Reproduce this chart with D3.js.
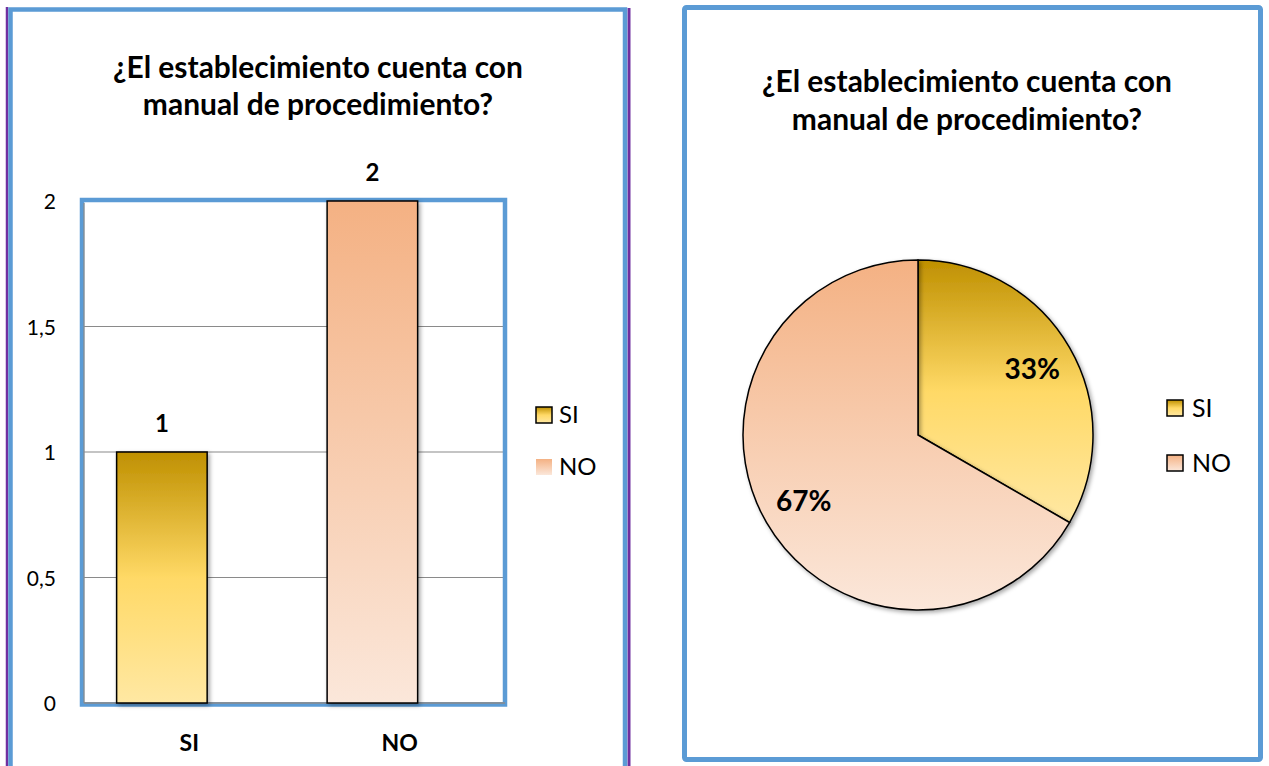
<!DOCTYPE html>
<html>
<head>
<meta charset="utf-8">
<script src="https://cdn.jsdelivr.net/npm/d3@7"></script>
<style>
  html, body { margin: 0; padding: 0; background: #fff; }
  svg { display: block; font-family: Lato, "Open Sans", sans-serif; }
</style>
</head>
<body>
<svg id="chart" width="1269" height="766"></svg>
<script>
// ---- data ----
const titleLines = ["¿El establecimiento cuenta con", "manual de procedimiento?"];
const categories = ["SI", "NO"];
const values = [1, 2];
const yTicks = [0, 0.5, 1, 1.5, 2];
const legendLabels = ["SI", "NO"];

const svg = d3.select("#chart");
const defs = svg.append("defs");

// gradients
function grad(id, stops) {
  const g = defs.append("linearGradient").attr("id", id)
    .attr("x1", 0).attr("y1", 0).attr("x2", 0).attr("y2", 1);
  stops.forEach(s => g.append("stop").attr("offset", s[0]).attr("stop-color", s[1]));
}
grad("gSI", [[0, "#BF9000"], [0.5, "#FFD966"], [1, "#FFE8A3"]]);
grad("gNO", [[0, "#F4B183"], [1, "#FBE7DA"]]);
const fills = { SI: "url(#gSI)", NO: "url(#gNO)" };

const sh = defs.append("filter").attr("id", "shadow")
  .attr("x", "-20%").attr("y", "-20%").attr("width", "140%").attr("height", "140%");
sh.append("feDropShadow").attr("dx", 2).attr("dy", 2).attr("stdDeviation", 2)
  .attr("flood-color", "#000").attr("flood-opacity", 0.35);

const blue = "#5B9BD5", purple = "#7030A0";

// ---- panel frames ----
svg.append("line").attr("x1", 7).attr("x2", 7).attr("y1", 7).attr("y2", 766)
  .attr("stroke", purple).attr("stroke-width", 2.5);
svg.append("line").attr("x1", 629).attr("x2", 629).attr("y1", 8).attr("y2", 766)
  .attr("stroke", purple).attr("stroke-width", 3);
svg.append("rect").attr("x", 10.5).attr("y", 9.5).attr("width", 614.5).attr("height", 800)
  .attr("fill", "none").attr("stroke", blue).attr("stroke-width", 4.5);
svg.append("rect").attr("x", 684.5).attr("y", 7.5).attr("width", 576).attr("height", 752)
  .attr("rx", 2).attr("fill", "none").attr("stroke", blue).attr("stroke-width", 5);

// ---- titles ----
function title(cx, baselines) {
  const t = svg.append("g");
  titleLines.forEach((line, i) => {
    const el = t.append("text").attr("x", cx).attr("y", baselines[i])
      .attr("text-anchor", "middle").attr("font-weight", "bold")
      .attr("font-size", 24).attr("fill", "#000").text(line);
    if (i === 0) {
      const w = el.node().getComputedTextLength();
      t.attr("data-fs", 24 * 410 / w);
    }
  });
  const fs = +t.attr("data-fs");
  t.selectAll("text").attr("font-size", fs);
}
title(318, [78, 115]);
title(967, [92, 130]);

// ---- bar chart ----
const plot = { x0: 84, x1: 505, y0: 201, y1: 703 };
const x = d3.scaleBand().domain(categories).range([plot.x0, plot.x1]);
const y = d3.scaleLinear().domain([0, 2]).range([plot.y1, plot.y0]);

const grid = svg.append("g");
grid.selectAll("line").data(yTicks).join("line")
  .attr("x1", plot.x0).attr("x2", plot.x1)
  .attr("y1", d => y(d)).attr("y2", d => y(d))
  .attr("stroke", "#8a8a8a").attr("stroke-width", 1.2);

svg.append("rect").attr("x", plot.x0 - 2).attr("y", plot.y0 - 1)
  .attr("width", plot.x1 - plot.x0 + 2).attr("height", plot.y1 - plot.y0 + 2.5)
  .attr("fill", "none").attr("stroke", blue).attr("stroke-width", 4.5);
svg.append("line").attr("x1", plot.x0).attr("x2", plot.x0).attr("y1", plot.y0 + 2).attr("y2", plot.y1)
  .attr("stroke", "#8a8a8a").attr("stroke-width", 1.2);
svg.append("line").attr("x1", plot.x0).attr("x2", plot.x1).attr("y1", plot.y1).attr("y2", plot.y1)
  .attr("stroke", "#8a8a8a").attr("stroke-width", 1.5);

const yAxis = d3.axisLeft(y).tickValues(yTicks).tickSize(0)
  .tickFormat(d => String(d).replace(".", ","));
const ya = svg.append("g").attr("transform", `translate(${plot.x0 - 28},0)`).call(yAxis);
ya.select(".domain").remove();
ya.selectAll("text").attr("font-size", 21).attr("fill", "#000")
  .attr("font-family", "Lato, sans-serif").attr("dy", "0.36em").attr("x", 0);

const xAxis = d3.axisBottom(x).tickSize(0);
const xa = svg.append("g").attr("transform", `translate(0,${plot.y1})`).call(xAxis);
xa.select(".domain").remove();
xa.selectAll("text").attr("font-size", 23).attr("font-weight", "bold").attr("fill", "#000")
  .attr("font-family", "Lato, sans-serif").attr("y", 48).attr("dy", 0);

const bw = x.bandwidth() * 0.43, boff = x.bandwidth() * 0.155;
svg.append("g").selectAll("rect").data(categories).join("rect")
  .attr("x", (d) => x(d) + boff).attr("width", bw)
  .attr("y", (d, i) => y(values[i])).attr("height", (d, i) => y(0) - y(values[i]))
  .attr("fill", d => fills[d]).attr("stroke", "#000").attr("stroke-width", 1.5)
  .attr("filter", "url(#shadow)");

svg.append("g").selectAll("text").data(categories).join("text")
  .attr("x", d => x(d) + boff + bw / 2).attr("y", (d, i) => y(values[i]) - 20)
  .attr("text-anchor", "middle").attr("font-size", 24).attr("font-weight", "bold")
  .text((d, i) => values[i]);

// bar legend
const lg1 = svg.append("g");
legendLabels.forEach((l, i) => {
  lg1.append("rect").attr("x", 536).attr("y", 407 + i * 52).attr("width", 16).attr("height", 16)
    .attr("fill", fills[l]).attr("stroke", i === 0 ? "#000" : "none").attr("stroke-width", 1.5);
  lg1.append("text").attr("x", 559).attr("y", 423 + i * 52).attr("font-size", 24)
    .attr("fill", "#000").text(l);
});

// ---- pie ----
const cx = 918, cy = 435, R = 175;
const pie = d3.pie().sort(null).value(d => d)(values);
const arc = d3.arc().innerRadius(0).outerRadius(R);
const labelArc = d3.arc().innerRadius(132).outerRadius(132);
const total = d3.sum(values);
const pg = svg.append("g").attr("transform", `translate(${cx},${cy})`);
pg.selectAll("path").data(pie).join("path")
  .attr("d", arc).attr("fill", (d, i) => fills[categories[i]])
  .attr("stroke", "#000").attr("stroke-width", 1.5).attr("filter", "url(#shadow)");
pg.selectAll("text").data(pie).join("text")
  .attr("transform", d => `translate(${labelArc.centroid(d)})`)
  .attr("text-anchor", "middle").attr("dy", "0.36em")
  .attr("font-size", 28).attr("font-weight", "bold")
  .text(d => Math.round(d.value / total * 100) + "%");

// pie legend
const lg2 = svg.append("g");
legendLabels.forEach((l, i) => {
  lg2.append("rect").attr("x", 1167).attr("y", 400 + i * 55).attr("width", 16).attr("height", 16)
    .attr("fill", fills[l]).attr("stroke", "#000").attr("stroke-width", 1.5);
  lg2.append("text").attr("x", 1192).attr("y", 417 + i * 55).attr("font-size", 25)
    .attr("fill", "#000").text(l);
});
</script>
</body>
</html>
